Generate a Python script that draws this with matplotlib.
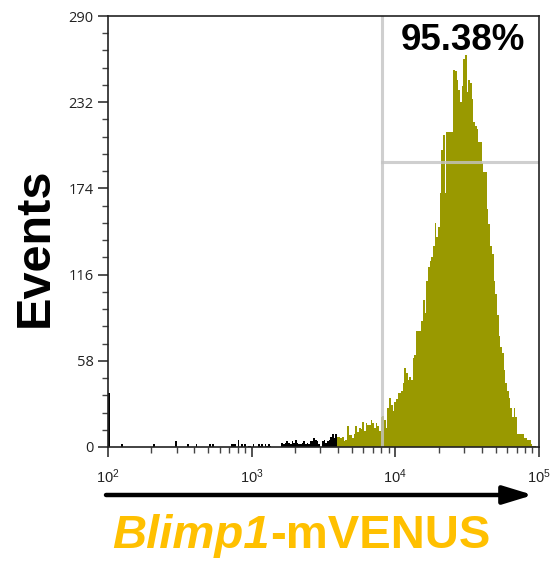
import numpy as np
import matplotlib.pyplot as plt
from matplotlib.ticker import FixedLocator, MultipleLocator, LogLocator, NullFormatter

plt.rcParams['font.family'] = ['Liberation Sans', 'DejaVu Sans']
plt.rcParams['mathtext.fontset'] = 'custom'
plt.rcParams['mathtext.rm'] = 'Open Sans'

# 256 log bins from 10^2 to 10^5; first 136 bins drawn black, rest olive
black_counts = [36, 0, 0, 0, 0, 0, 0, 0, 2, 0, 0, 0, 0, 0, 0, 0, 0, 0, 0, 0,
                0, 0, 0, 0, 0, 0, 0, 2, 0, 0, 0, 0, 0, 0, 0, 0, 0, 0, 0, 0,
                4, 0, 0, 0, 0, 0, 0, 2, 0, 0, 0, 0, 2, 0, 0, 0, 0, 0, 0, 0,
                2, 0, 2, 0, 0, 0, 0, 0, 0, 0, 0, 0, 0, 2, 2, 2, 0, 5, 0, 2,
                0, 2, 0, 1, 1, 0, 2, 0, 0, 2, 1, 2, 0, 2, 1, 2, 1, 0, 0, 0,
                0, 0, 0, 3, 2, 3, 4, 3, 2, 4, 3, 5, 3, 2, 2, 3, 4, 2, 3, 2,
                4, 4, 6, 5, 4, 2, 0, 4, 5, 3, 4, 5, 7, 9, 6, 9]
venus_counts = [7, 7, 6, 7, 4, 5, 14, 8, 8, 6, 9, 14, 10, 13, 12, 17, 11, 16, 15, 15,
                18, 16, 13, 16, 14, 11, 20, 21, 18, 13, 26, 33, 28, 24, 30, 32, 36, 36, 38, 43,
                53, 50, 45, 47, 45, 60, 62, 78, 78, 78, 85, 99, 90, 112, 121, 125, 128, 135, 151, 141,
                148, 171, 200, 210, 171, 212, 212, 212, 212, 254, 253, 247, 240, 232, 243, 261, 264, 239, 247, 245,
                234, 219, 216, 214, 205, 205, 191, 185, 185, 160, 150, 135, 130, 112, 103, 89, 75, 67, 63, 52,
                43, 38, 33, 26, 20, 26, 20, 9, 9, 9, 9, 6, 6, 5, 5, 2, 1, 1, 0, 0]

y_ticks = [0, 58, 116, 174, 232, 290]
gate_x = 8070
gate_y = 192
gate_label = '95.38%'


def main():
    edges = np.logspace(2, 5, len(black_counts) + len(venus_counts) + 1)
    nb = len(black_counts)

    fig = plt.figure(figsize=(5.53, 5.61), dpi=100, facecolor='white')
    ax = fig.add_axes([108 / 553, 1 - 447 / 561, 431 / 553, 431 / 561])

    ax.stairs(black_counts, edges[:nb + 1], fill=True, color='black', lw=0)
    ax.stairs(venus_counts, edges[nb:], fill=True, color='#999900', lw=0)

    ax.axvline(gate_x, color='#c4c4c4', lw=2.2, alpha=0.8)
    ax.plot([gate_x, 1e5], [gate_y, gate_y], color='#c4c4c4', lw=2.2, alpha=0.8)

    ax.set_xscale('log')
    ax.set_xlim(1e2, 1e5)
    ax.set_ylim(0, 290)
    ax.yaxis.set_major_locator(FixedLocator(y_ticks))
    ax.yaxis.set_minor_locator(MultipleLocator(11.6))
    ax.xaxis.set_major_locator(LogLocator(base=10, numticks=10))
    ax.xaxis.set_minor_locator(LogLocator(base=10, subs=np.arange(2, 10), numticks=20))
    ax.xaxis.set_minor_formatter(NullFormatter())

    for s in ax.spines.values():
        s.set_color('#222222')
        s.set_linewidth(1.2)
    ax.tick_params(which='major', length=7.5, width=1.1, color='#222222',
                   labelsize=10.5, labelcolor='#222222')
    ax.tick_params(which='minor', length=4, width=1.0, color='#444444')
    ax.tick_params(axis='y', pad=3, labelfontfamily='Open Sans')
    ax.tick_params(axis='x', pad=7)

    fig.text(463 / 553, 1 - 40 / 561, gate_label, ha='center', va='center',
             fontsize=26.5, fontweight='bold', color='black')
    fig.text(35 / 553, 1 - 247 / 561, 'Events', ha='center', va='center',
             rotation=90, fontsize=35, fontweight='bold', color='black')

    ax.annotate('', xy=(533 / 553, 1 - 495 / 561), xytext=(106 / 553, 1 - 495 / 561),
                xycoords='figure fraction', textcoords='figure fraction',
                arrowprops=dict(arrowstyle='-|>,head_length=1.8,head_width=0.55',
                                lw=3.2, color='black', shrinkA=0, shrinkB=0))

    split = 270 / 553
    base = 1 - 548 / 561
    fig.text(split, base, 'Blimp1', ha='right', va='baseline', fontsize=34,
             fontweight='bold', fontstyle='italic', color='#FFC000')
    fig.text(split, base, '-mVENUS', ha='left', va='baseline', fontsize=34,
             fontweight='bold', color='#FFC000')

    fig.savefig('out.png', dpi=100, facecolor='white')


if __name__ == '__main__':
    main()
